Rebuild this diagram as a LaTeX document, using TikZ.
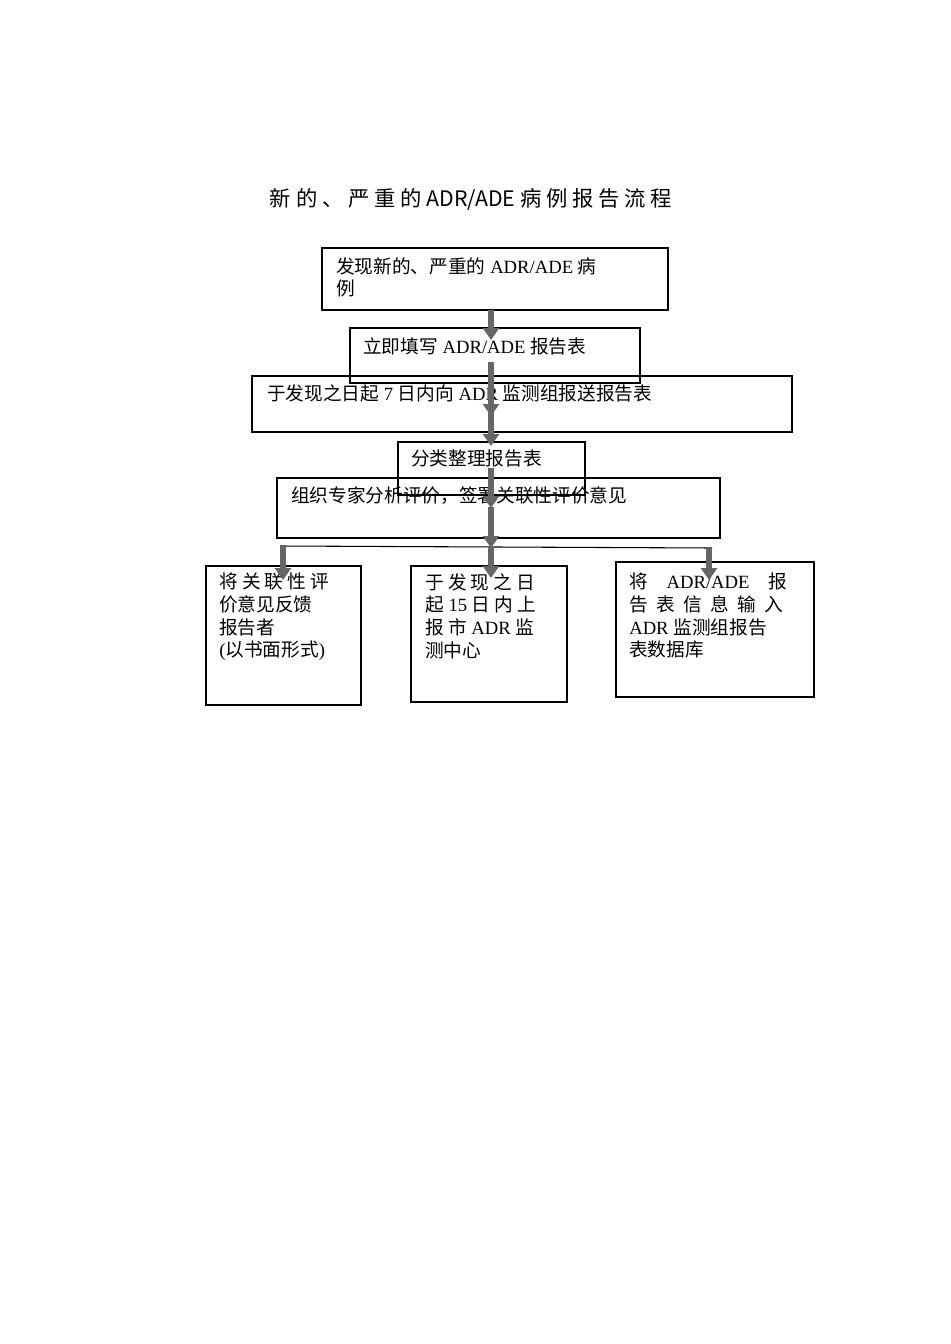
\documentclass[tikz,border=0pt]{standalone}
\usepackage{fontspec}
\setmainfont{Liberation Serif}
\newfontfamily\cjk{Noto Sans CJK SC}
\usetikzlibrary{arrows.meta}
\begin{document}
\begin{tikzpicture}[x=0.75pt,y=-0.75pt,
  box/.style={draw,line width=0.8pt,anchor=north west,inner sep=0pt},
  txt/.style={anchor=north west,align=left,font=\fontsize{14}{17}\selectfont,inner sep=0pt},
  barrow/.style={line width=5pt,draw=black!60,-{Triangle[length=9pt,width=12pt]}}]
\useasboundingbox (0,0) rectangle (950,1344);
\node[anchor=center,font=\fontsize{16}{19}\selectfont\cjk] (title) at (471,199) {新\ 的\ 、\ 严\ 重\ 的\ ADR/ADE\ 病\ 例\ 报\ 告\ 流\ 程};
% boxes
\draw[line width=0.8pt,fill=white] (322,248) rectangle (668,310);
\coordinate (b1) at (490,310);
\node[txt] (t1) at (336,257) {{\cjk 发现新的、严重的} ADR/ADE {\cjk 病}\\{\cjk 例}};
\draw[line width=0.8pt] (350,328) rectangle (640,383);
\node[txt] (t2) at (363,337) {{\cjk 立即填写} ADR/ADE {\cjk 报告表}};
\draw[line width=0.8pt] (252,376) rectangle (792,432);
\node[txt] (t3) at (267,384) {{\cjk 于发现之日起} 7 {\cjk 日内向} ADR {\cjk 监测组报送报告表}};
\draw[line width=0.8pt] (398,442) rectangle (585,495);
\node[txt] (t4) at (411,450) {\cjk 分类整理报告表};
\draw[line width=0.8pt] (277,478) rectangle (720,538);
\node[txt] (t5) at (291,486) {\cjk 组织专家分析评价，签署关联性评价意见};
\draw[line width=0.8pt] (280,546) -- (712,548);
\draw[line width=0.8pt] (206,566) rectangle (361,705);
\node[txt] (ta) at (219,573) {{\cjk 将\ 关\ 联\ 性\ 评}\\{\cjk 价意见反馈}\\{\cjk 报告者}\\({\cjk 以书面形式})};
\draw[line width=0.8pt] (411,566) rectangle (567,702);
\node[txt] (tb) at (425,573) {{\cjk 于\ 发\ 现\ 之\ 日}\\{\cjk 起} 15 {\cjk 日\ 内\ 上}\\{\cjk 报\ 市} ADR {\cjk 监}\\{\cjk 测中心}};
\draw[line width=0.8pt] (616,562) rectangle (814,697);
\node[txt] (tc) at (629,573) {{\cjk 将}\quad ADR/ADE\quad {\cjk 报}\\{\cjk 告\ \ 表\ \ 信\ \ 息\ \ 输\ \ 入}\\ADR {\cjk 监测组报告}\\{\cjk 表数据库}};
% arrows
\coordinate (a1) at (491,310); \coordinate (a2) at (491,340);
\coordinate (a3) at (491,362); \coordinate (a4) at (491,416);
\coordinate (a5) at (491,405); \coordinate (a6) at (491,446);
\coordinate (a7) at (491,468); \coordinate (a8) at (491,508);
\coordinate (a9) at (491,507); \coordinate (a10) at (491,548);
\coordinate (c1) at (283,546); \coordinate (c2) at (283,580);
\coordinate (d1) at (491,546); \coordinate (d2) at (491,578);
\coordinate (e1) at (709,548); \coordinate (e2) at (709,580);
\foreach \s/\e in {a1/a2,a3/a4,a5/a6,a7/a8,a9/a10,c1/c2,d1/d2,e1/e2}
  \draw[barrow] (\s) -- (\e);
\end{tikzpicture}
\end{document}
